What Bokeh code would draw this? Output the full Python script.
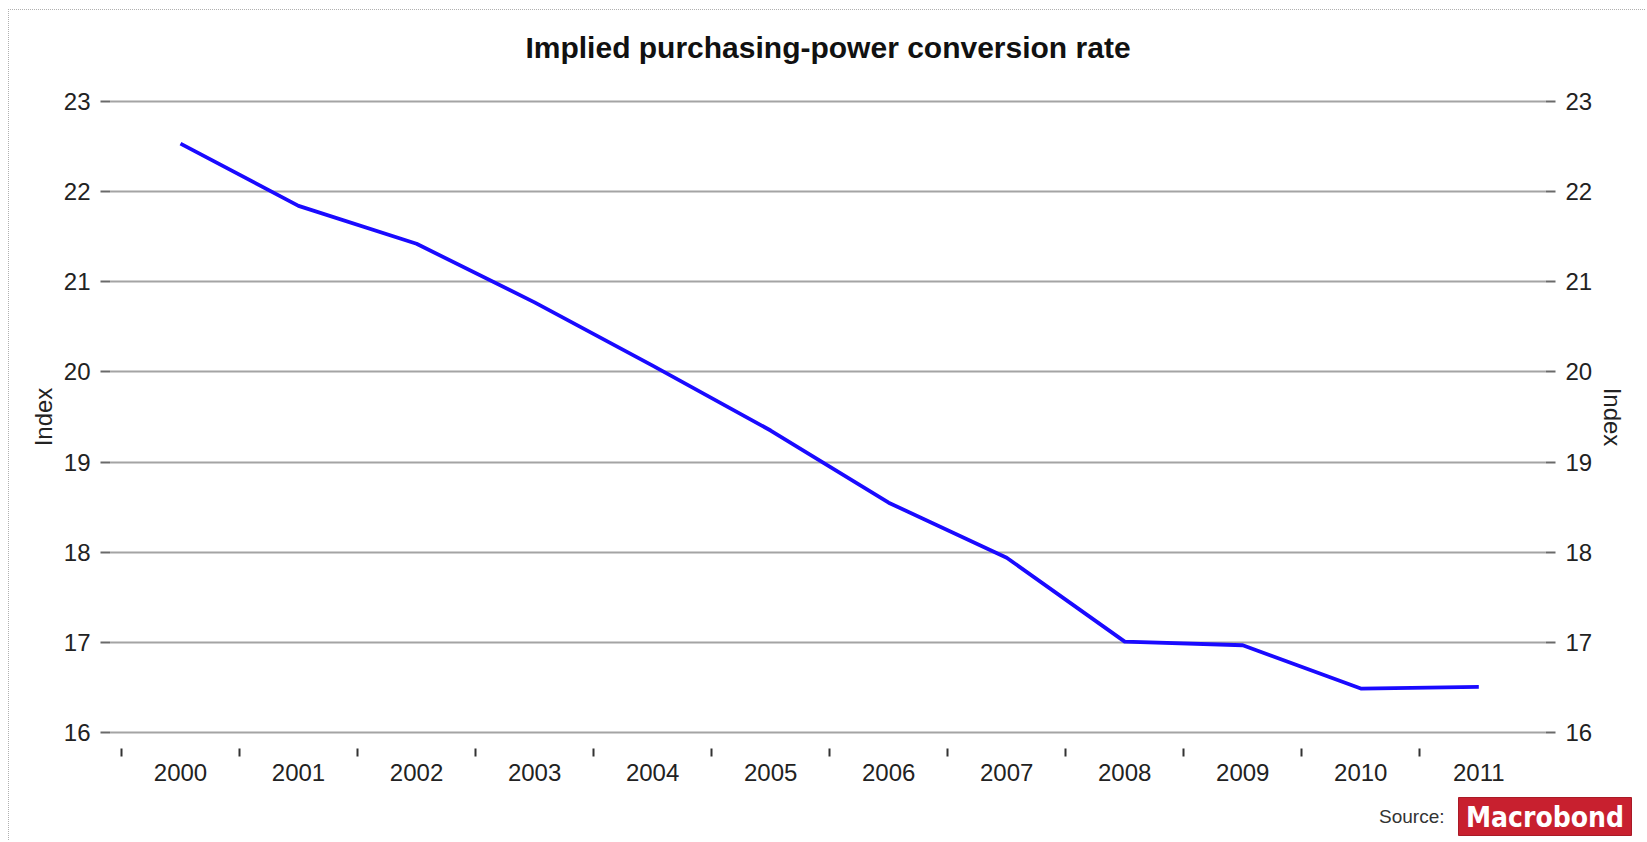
from bokeh.plotting import figure
from bokeh.layouts import column
from bokeh.models import (ColumnDataSource, Range1d, FixedTicker, LinearAxis, Grid)
from bokeh.core.properties import value
from bokeh.embed import file_html
from bokeh.resources import INLINE

# ---- data -------------------------------------------------------------
years = ["2000", "2001", "2002", "2003", "2004", "2005",
         "2006", "2007", "2008", "2009", "2010", "2011"]
index_values = [22.53, 21.84, 21.42, 20.77, 20.07, 19.35,
                18.55, 17.94, 17.01, 16.97, 16.49, 16.51]
y_ticks = [16, 17, 18, 19, 20, 21, 22, 23]

title_text = "Implied purchasing-power conversion rate"
axis_title = "Index"
source_text = "Source:"
brand_text = "Macrobond"

# ---- layout constants -------------------------------------------------
WF = 1636                      # width of every panel inside the dotted page frame
HH, HM, HF = 70, 716, 44       # header / chart / footer heights
FRAME_L, FRAME_R = 101, 1536   # plot area, chart-local pixels
FRAME_T, FRAME_B = 18, 655
X0, X1 = -0.593, len(years) - 0.435
Y0, Y1 = 15.97, 23.03
FONT = "Liberation Sans"
TEXT_COLOR = "#222222"

pos = list(range(len(years)))          # one slot per year, point in the middle
bounds = [i - 0.5 for i in pos]        # year boundaries carry the small tick marks


def blank_panel(h):
    """A figure whose plot area covers its whole canvas, in pixel units (y down)."""
    f = figure(width=WF, height=h, output_backend="svg", toolbar_location=None,
               tools="", x_range=Range1d(0, WF), y_range=Range1d(h, 0),
               x_axis_type=None, y_axis_type=None, min_border=0)
    f.frame_align = False
    f.outline_line_color = None
    f.background_fill_color = "white"
    f.border_fill_color = "white"
    return f


# ---- header: chart title ----------------------------------------------
header = blank_panel(HH)
header.text(x=[(FRAME_L + FRAME_R) / 2], y=[37], text=[title_text],
            text_font=value(FONT), text_font_size="30px", text_font_style="bold",
            text_color="#111111", text_align="center", text_baseline="middle")

# ---- chart ------------------------------------------------------------
src = ColumnDataSource(dict(x=pos, y=index_values))

p = figure(width=WF, height=HM, output_backend="svg", toolbar_location=None, tools="",
           x_range=Range1d(X0, X1), y_range=Range1d(Y0, Y1),
           min_border_left=FRAME_L, min_border_right=WF - FRAME_R,
           min_border_top=FRAME_T, min_border_bottom=HM - FRAME_B,
           x_axis_type=None, y_axis_type=None)
p.frame_align = False
p.outline_line_color = None
p.background_fill_color = "white"
p.border_fill_color = "white"

yticker = FixedTicker(ticks=y_ticks)


def style_y(ax):
    ax.axis_line_color = None
    ax.major_tick_in = 0
    ax.major_tick_out = 10
    ax.major_tick_line_color = "#6a6a6a"
    ax.major_tick_line_width = 2
    ax.minor_tick_line_color = None
    ax.major_label_standoff = 10
    ax.major_label_text_font = FONT
    ax.major_label_text_font_size = "24px"
    ax.major_label_text_color = TEXT_COLOR
    ax.axis_label = axis_title
    ax.axis_label_text_font = FONT
    ax.axis_label_text_font_size = "24px"
    ax.axis_label_text_font_style = "normal"
    ax.axis_label_text_color = TEXT_COLOR
    ax.axis_label_standoff = 4


yl = LinearAxis(ticker=yticker)
style_y(yl)
p.add_layout(yl, "left")
yr = LinearAxis(ticker=yticker)
style_y(yr)
p.add_layout(yr, "right")

xaxis = LinearAxis(ticker=FixedTicker(ticks=pos, minor_ticks=bounds))
xaxis.major_label_overrides = {i: y for i, y in zip(pos, years)}
xaxis.axis_line_color = None
xaxis.major_tick_in = 0
xaxis.major_tick_out = 0
xaxis.major_tick_line_color = None
xaxis.minor_tick_in = -13          # marks sit a little below the plot area
xaxis.minor_tick_out = 21
xaxis.minor_tick_line_color = "#333333"
xaxis.minor_tick_line_width = 2
xaxis.major_label_standoff = 7
xaxis.major_label_text_font = FONT
xaxis.major_label_text_font_size = "24px"
xaxis.major_label_text_color = TEXT_COLOR
p.add_layout(xaxis, "below")

p.add_layout(Grid(dimension=1, ticker=yticker, grid_line_color="#a4a4a4",
                  grid_line_width=2))

p.line("x", "y", source=src, line_color="#1a0aff", line_width=3.8,
       line_join="round", line_cap="butt")

# ---- footer: source credit --------------------------------------------
footer = blank_panel(HF)
footer.text(x=[1435], y=[20], text=[source_text], text_font=value(FONT),
            text_font_size="19px", text_color="#333333",
            text_align="right", text_baseline="middle")
footer.quad(left=[1449], right=[1622], top=[1], bottom=[39],
            fill_color="#c8202f", line_color="#a91a26", line_width=1)
footer.text(x=[1535.5], y=[21], text=[brand_text],
            text_font=value("DejaVu Sans Condensed"),
            text_font_size="28px", text_font_style="bold", text_color="white",
            text_align="center", text_baseline="middle")

page = column(header, p, footer, spacing=0, margin=(9, 0, 0, 8),
              styles={"border-top": "1px dotted #b0b0b0",
                      "border-left": "1px dotted #b0b0b0"})

open("out.html", "w").write(file_html(page, INLINE))
